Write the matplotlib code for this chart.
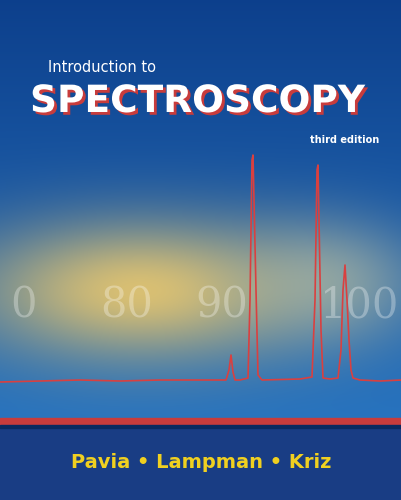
import numpy as np
import matplotlib
matplotlib.use("Agg")
import matplotlib.pyplot as plt
import matplotlib.patheffects as pe

spec_x = [0,40,80,120,160,200,226,229,231,233,235,240,248,250,252,253,254,256,258,262,300,312,315,317,318,319,321,323,330,338,341,343,345,347,349,351,353,360,380,402]
spec_y = [382,381,380,381,380,380,380,370,355,372,380,380,378,300,160,155,200,290,375,380,379,377,300,170,165,220,330,378,379,378,350,290,265,300,340,370,378,380,381,380]
scale_labels = ["0", "80", "90", "100"]
scale_x = [10, 100, 195, 320]
authors = "Pavia \u2022 Lampman \u2022 Kriz"

fig = plt.figure(figsize=(4.02, 5.0), dpi=100)
ax = fig.add_axes([0, 0, 1, 1])
ax.set_xlim(0, 402); ax.set_ylim(500, 0); ax.axis("off")

H, W = 500, 402
yy, xx = np.mgrid[0:H, 0:W]
top = np.array([0.05, 0.25, 0.55]); mid = np.array([0.15, 0.45, 0.75])
t = np.clip(yy / 420, 0, 1)[..., None]
img = top * (1 - t) + mid * t
glow = np.exp(-(((xx - 140) / 170) ** 2 + ((yy - 290) / 70) ** 2))[..., None]
img = img * (1 - glow) + np.array([0.85, 0.75, 0.45]) * glow
glow2 = np.exp(-(((xx - 330) / 90) ** 2 + ((yy - 280) / 60) ** 2))[..., None] * 0.5
img = img * (1 - glow2) + np.array([0.8, 0.8, 0.65]) * glow2
img[425:] = np.array([0.1, 0.24, 0.52])
ax.imshow(np.clip(img, 0, 1), extent=[0, 402, 500, 0], aspect="auto", zorder=0)

for s, x in zip(scale_labels, scale_x):
    ax.text(x, 305, s, fontsize=30, color="white", alpha=0.3, ha="left", va="center", family="DejaVu Serif")

ax.plot(spec_x, spec_y, color="#d94040", lw=1.2, zorder=3)
ax.axhspan(418, 425, color="#c83c3c", zorder=2)
ax.axhspan(425, 428, color="#0a2a60", zorder=2)

ax.text(48, 68, "Introduction to", fontsize=10.5, color="white", va="center")
ax.text(30, 102, "SPECTROSCOPY", fontsize=27, color="white", va="center", ha="left",
        fontweight="bold",
        path_effects=[pe.withSimplePatchShadow(offset=(2, -2), shadow_rgbFace="#c83c3c", alpha=1)])
ax.text(310, 140, "third edition", fontsize=7, color="white", fontweight="bold", va="center")
ax.text(201, 462, authors, fontsize=14, color="#f0d020", fontweight="bold", ha="center", va="center")

fig.savefig("out.png", dpi=100)
